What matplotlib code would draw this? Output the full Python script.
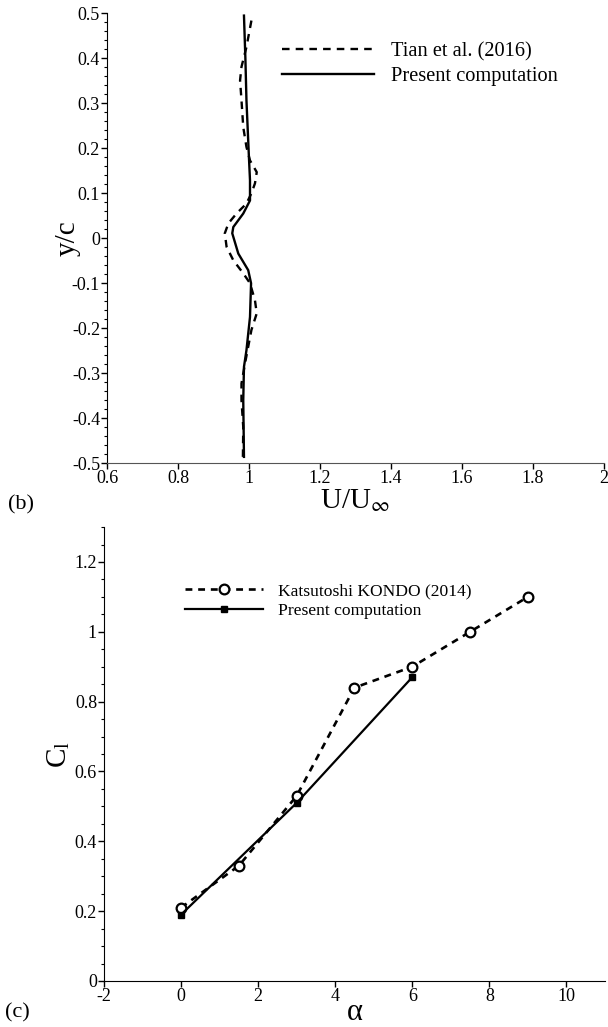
import matplotlib
matplotlib.use('Agg')
import matplotlib.pyplot as plt
from matplotlib.ticker import MultipleLocator, AutoMinorLocator

# FONTS - Times-like serif everywhere
plt.rcParams['font.family'] = ['Liberation Serif', 'DejaVu Serif']
plt.rcParams['mathtext.fontset'] = 'stix'
plt.rcParams['axes.unicode_minus'] = False

# DATA - panel (b), wake velocity profile
tian_u = [1.007, 0.993, 0.979, 0.975, 0.979, 0.984, 0.993, 1.003, 1.022, 1.017,
          1.007, 0.993, 0.965, 0.942, 0.932, 0.937, 0.956, 0.984, 1.003, 1.017,
          1.022, 1.007, 0.998, 0.989, 0.979, 0.979, 0.984, 0.983]
tian_y = [0.484, 0.425, 0.381, 0.351, 0.307, 0.247, 0.203, 0.173, 0.147, 0.122,
          0.100, 0.077, 0.055, 0.033, 0.011, -0.019, -0.049, -0.078, -0.100, -0.138,
          -0.167, -0.204, -0.241, -0.278, -0.323, -0.360, -0.420, -0.486]
comp_u = [0.986, 0.990, 0.993, 1.000, 1.003, 1.003, 0.984, 0.956, 0.953, 0.970,
          0.998, 1.006, 1.003, 0.993, 0.986, 0.984, 0.986]
comp_y = [0.495, 0.400, 0.307, 0.180, 0.129, 0.084, 0.055, 0.025, 0.011, -0.034,
          -0.071, -0.100, -0.175, -0.249, -0.286, -0.360, -0.486]

# DATA - panel (c), lift coefficient
kondo_alpha = [0, 1.5, 3, 4.5, 6, 7.5, 9]
kondo_cl = [0.21, 0.33, 0.53, 0.84, 0.90, 1.00, 1.10]
comp_alpha = [0, 3, 6]
comp_cl = [0.19, 0.51, 0.87]

fig = plt.figure(figsize=(6.08, 10.27), dpi=100)

# PANEL (b)
ax1 = fig.add_axes([0.176, 0.549, 0.817, 0.438])
ax1.plot(tian_u, tian_y, color='black', lw=1.7, dashes=(3.2, 2.6),
         label='Tian et al. (2016)')
ax1.plot(comp_u, comp_y, color='black', lw=1.7, label='Present computation')
ax1.set_xlim(0.6, 2)
ax1.set_ylim(-0.5, 0.5)
ax1.yaxis.set_minor_locator(MultipleLocator(0.02))
ax1.set_xticks([0.6, 0.8, 1, 1.2, 1.4, 1.6, 1.8, 2])
ax1.set_xticklabels(['0.6', '0.8', '1', '1.2', '1.4', '1.6', '1.8', '2'])
ax1.set_yticks([-0.5, -0.4, -0.3, -0.2, -0.1, 0, 0.1, 0.2, 0.3, 0.4, 0.5])
ax1.set_yticklabels(['-0.5', '-0.4', '-0.3', '-0.2', '-0.1', '0',
                     '0.1', '0.2', '0.3', '0.4', '0.5'])
ax1.spines['top'].set_visible(False)
ax1.spines['right'].set_visible(False)
ax1.spines['bottom'].set_color('#555555')
ax1.tick_params(which='major', direction='out', length=4, width=1,
                labelsize=13, pad=1)
ax1.tick_params(which='minor', direction='out', length=2, width=0.8)
ax1.set_xlabel(r'U/U$_\infty$', fontsize=21, labelpad=0)
ax1.set_ylabel('y/c', fontsize=21)
ax1.yaxis.set_label_coords(-0.054, 0.5)
ax1.legend(loc='upper left', bbox_to_anchor=(0.352, 0.936), frameon=False,
           fontsize=14.7, handlelength=4.5, handletextpad=0.85,
           labelspacing=0.27, borderpad=0, borderaxespad=0)

# PANEL (c)
ax2 = fig.add_axes([0.171, 0.0448, 0.824, 0.442])
ax2.plot(kondo_alpha, kondo_cl, color='black', lw=1.9, dashes=(2.6, 2.2),
         marker='o', markersize=7, markerfacecolor='white',
         markeredgewidth=1.6, label='Katsutoshi KONDO (2014)')
ax2.plot(comp_alpha, comp_cl, color='black', lw=1.6, marker='s',
         markersize=5, label='Present computation')
ax2.set_xlim(-2, 11)
ax2.set_ylim(0, 1.3)
ax2.set_xticks([-2, 0, 2, 4, 6, 8, 10])
ax2.set_yticks([0, 0.2, 0.4, 0.6, 0.8, 1, 1.2])
ax2.set_yticklabels(['0', '0.2', '0.4', '0.6', '0.8', '1', '1.2'])
ax2.yaxis.set_minor_locator(AutoMinorLocator(4))
ax2.spines['top'].set_visible(False)
ax2.spines['right'].set_visible(False)
ax2.tick_params(which='major', direction='out', length=4, width=1,
                labelsize=13, pad=1)
ax2.tick_params(which='minor', direction='out', length=2, width=0.8)
ax2.set_xlabel('α', fontsize=22, labelpad=-5)
ax2.set_ylabel(r'C$_\mathregular{l}$', fontsize=21)
ax2.yaxis.set_label_coords(-0.064, 0.5)
ax2.legend(loc='upper left', bbox_to_anchor=(0.162, 0.877), frameon=False,
           fontsize=12.6, handlelength=4.47, handletextpad=0.86,
           labelspacing=0.2, borderpad=0, borderaxespad=0, numpoints=1)

# PANEL LABELS
fig.text(0.013, 0.508, '(b)', fontsize=16, ha='left', va='center')
fig.text(0.008, 0.014, '(c)', fontsize=16, ha='left', va='center')

plt.savefig('out.png', dpi=100)
